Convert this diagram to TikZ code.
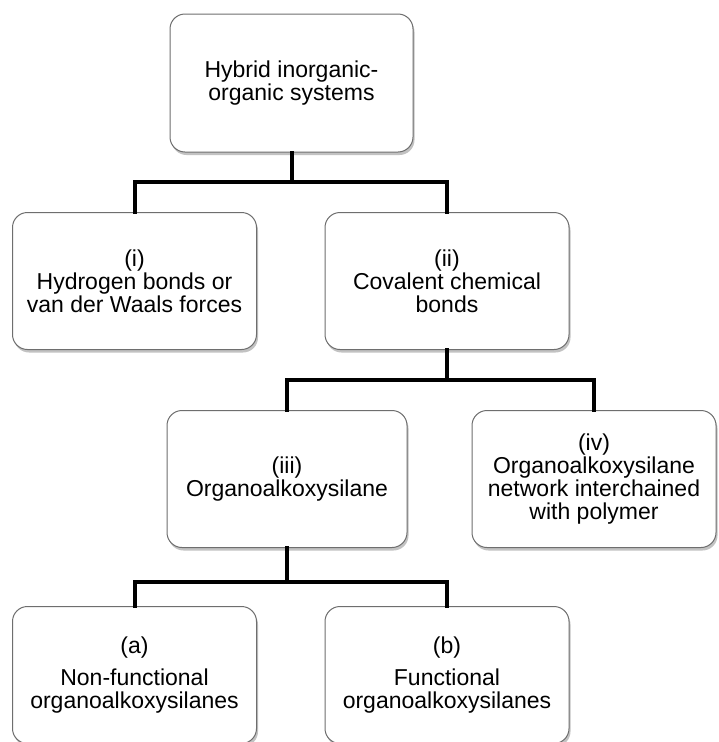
\documentclass[tikz,border=0pt]{standalone}
\usepackage{fontspec}
\setmainfont{Liberation Sans}
\usetikzlibrary{shadows}
\definecolor{boxline}{HTML}{6E6E6E}
\tikzset{
  catbox/.style={draw=boxline, line width=1pt, fill=white, rounded corners=15pt,
    minimum width=244pt, minimum height=137pt, align=center, inner sep=0pt,
    font=\fontsize{23}{22.8}\selectfont,
    drop shadow={shadow xshift=1.5pt, shadow yshift=-3pt, opacity=0.4, fill=black!60}},
  conn/.style={draw=black, line width=4pt, line join=miter, line cap=rect}
}
\begin{document}
\begin{tikzpicture}[x=1pt,y=-1pt]
\useasboundingbox (0,0) rectangle (718,742);
\node[catbox, minimum width=243pt, minimum height=138pt] (top) at (291.5,83) {Hybrid inorganic-\\organic systems};
\node[catbox] (i) at (134.5,281) {(i)\\Hydrogen bonds or\\van der Waals forces};
\node[catbox] (ii) at (447,281) {(ii)\\Covalent chemical\\bonds};
\node[catbox, minimum width=240pt] (iii) at (287,479) {(iii)\\Organoalkoxysilane};
\node[catbox] (iv) at (594,479) {(iv)\\Organoalkoxysilane\\network interchained\\with polymer};
\node[catbox] (a) at (134.5,675) {(a)\\[9pt]Non-functional\\organoalkoxysilanes};
\node[catbox] (b) at (447,675) {(b)\\[9pt]Functional\\organoalkoxysilanes};
\coordinate (bar1) at (0,182);
\coordinate (bar2) at (0,380);
\coordinate (bar3) at (0,582);
\draw[conn] (top.south) -- (top.south |- bar1);
\draw[conn] (i.north) -- (i.north |- bar1) -- (ii.north |- bar1) -- (ii.north);
\draw[conn] (ii.south) -- (ii.south |- bar2);
\draw[conn] (iii.north) -- (iii.north |- bar2) -- (iv.north |- bar2) -- (iv.north);
\draw[conn] (iii.south) -- (iii.south |- bar3);
\draw[conn] (a.north) -- (a.north |- bar3) -- (b.north |- bar3) -- (b.north);
\end{tikzpicture}
\end{document}
